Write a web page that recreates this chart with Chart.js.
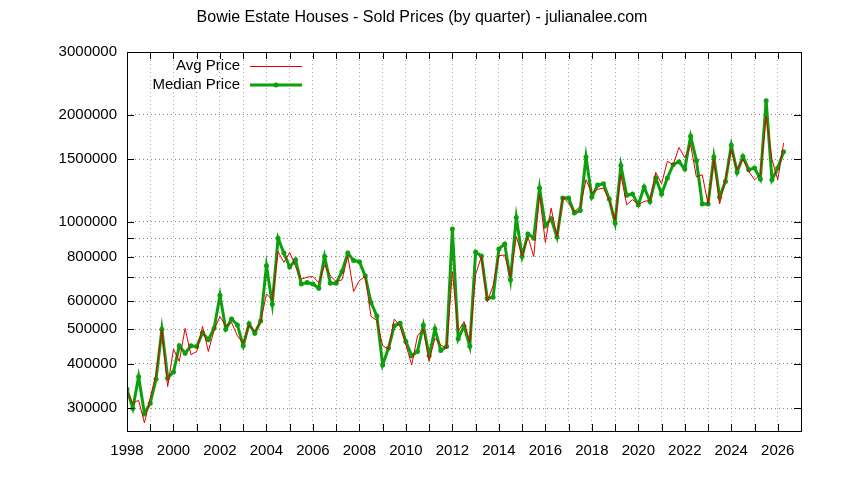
<!DOCTYPE html>
<html>
<head>
<meta charset="utf-8">
<script src="https://cdn.jsdelivr.net/npm/chart.js@4/dist/chart.umd.min.js"></script>
<style>
  html, body { margin: 0; padding: 0; background: #fff; }
</style>
</head>
<body>
<canvas id="priceChart" width="844" height="480"></canvas>
<script>
// quarterly data, first point is 1998 Q1
const firstYear = 1998;

const avgPrice = [
  335000, 310000, 316000, 273000, 320000, 375000, 498000, 345000, 440000, 406000,
  503000, 424000, 433000, 509000, 433000, 498000, 543000, 509000, 522000, 479000,
  457000, 514000, 493000, 525000, 628000, 604000, 826000, 770000, 821000, 750000,
  691000, 700000, 703000, 676000, 757000, 706000, 680000, 688000, 803000, 638000,
  685000, 703000, 543000, 529000, 449000, 440000, 534000, 509000, 452000, 397000,
  479000, 500000, 408000, 472000, 452000, 441000, 726000, 493000, 525000, 460000,
  712000, 800000, 596000, 662000, 804000, 808000, 700000, 910000, 803000, 910000,
  800000, 1193000, 876000, 1094000, 910000, 1175000, 1130000, 1070000, 1105000, 1314000,
  1206000, 1235000, 1245000, 1148000, 1014000, 1357000, 1118000, 1155000, 1120000, 1142000,
  1150000, 1378000, 1280000, 1480000, 1448000, 1619000, 1515000, 1648000, 1337000, 1357000,
  1125000, 1500000, 1125000, 1320000, 1595000, 1402000, 1500000, 1387000, 1314000, 1357000,
  1979000, 1500000, 1314000, 1666000
];

const medianPrice = [
  339000, 300000, 368000, 290000, 310000, 362000, 500000, 365000, 379000, 449000,
  428000, 449000, 447000, 489000, 467000, 503000, 623000, 500000, 534000, 514000,
  449000, 518000, 487000, 527000, 753000, 588000, 900000, 818000, 747000, 783000,
  670000, 676000, 670000, 652000, 800000, 673000, 673000, 726000, 818000, 780000,
  773000, 706000, 594000, 545000, 397000, 442000, 511000, 520000, 462000, 421000,
  433000, 513000, 421000, 501000, 436000, 447000, 955000, 470000, 510000, 448000,
  824000, 802000, 610000, 615000, 840000, 868000, 688000, 1030000, 800000, 926000,
  900000, 1245000, 976000, 1021000, 907000, 1167000, 1167000, 1059000, 1077000, 1522000,
  1175000, 1270000, 1280000, 1160000, 993000, 1441000, 1188000, 1198000, 1118000, 1254000,
  1142000, 1329000, 1198000, 1329000, 1448000, 1476000, 1408000, 1739000, 1489000, 1123000,
  1123000, 1522000, 1175000, 1300000, 1641000, 1378000, 1528000, 1402000, 1417000, 1320000,
  2190000, 1314000, 1417000, 1575000
];

const yTicks = [300000, 400000, 500000, 600000, 700000, 800000, 900000, 1000000, 1500000, 2000000, 3000000];
const yTickLabels = [300000, 400000, 500000, 600000, 800000, 1000000, 1500000, 2000000, 3000000];
const xYears = [1998, 1999, 2000, 2001, 2002, 2003, 2004, 2005, 2006, 2007, 2008, 2009, 2010, 2011, 2012,
  2013, 2014, 2015, 2016, 2017, 2018, 2019, 2020, 2021, 2022, 2023, 2024, 2025, 2026];

const FONT = "'Liberation Sans', Arial, sans-serif";
const RED = '#e00000';
const GREEN = '#0ca00c';

const avgPoints = avgPrice.map((v, i) => ({ x: firstYear + i * 0.25, y: v }));
const medianPoints = medianPrice.map((v, i) => ({ x: firstYear + i * 0.25, y: v }));

// frame, inward tick marks, title and legend in gnuplot style
const gnuplotBits = {
  id: 'gnuplotBits',
  afterDraw(chart) {
    const c = chart.ctx;
    const a = chart.chartArea;
    const xs = chart.scales.x, ys = chart.scales.y;
    c.save();
    c.strokeStyle = '#000';
    c.lineWidth = 1;
    c.beginPath();
    xYears.forEach(yr => {
      const px = Math.round(xs.getPixelForValue(yr)) + 0.5;
      c.moveTo(px, a.bottom); c.lineTo(px, a.bottom - 7);
      c.moveTo(px, a.top); c.lineTo(px, a.top + 7);
    });
    yTicks.forEach(v => {
      const py = Math.round(ys.getPixelForValue(v)) + 0.5;
      c.moveTo(a.left, py); c.lineTo(a.left + 7, py);
      c.moveTo(a.right, py); c.lineTo(a.right - 7, py);
    });
    c.stroke();
    c.strokeRect(Math.round(a.left) + 0.5, Math.round(a.top) + 0.5,
      Math.round(a.right - a.left), Math.round(a.bottom - a.top));

    c.fillStyle = '#000';
    c.font = '16px ' + FONT;
    c.textAlign = 'center';
    c.textBaseline = 'middle';
    c.fillText('Bowie Estate Houses - Sold Prices (by quarter) - julianalee.com', 422, 18);

    // legend
    c.font = '15px ' + FONT;
    c.textAlign = 'right';
    c.fillText('Avg Price', 240, 66);
    c.fillText('Median Price', 240, 85);
    c.strokeStyle = RED;
    c.lineWidth = 1;
    c.beginPath(); c.moveTo(250, 66.5); c.lineTo(302, 66.5); c.stroke();
    c.strokeStyle = GREEN;
    c.lineWidth = 3;
    c.beginPath(); c.moveTo(250, 85); c.lineTo(302, 85); c.stroke();
    c.fillStyle = GREEN;
    c.beginPath(); c.arc(276, 85, 2.5, 0, Math.PI * 2); c.fill();
    c.restore();
  }
};

const ctx = document.getElementById('priceChart').getContext('2d');
new Chart(ctx, {
  type: 'line',
  data: {
    datasets: [
      {
        label: 'Avg Price',
        data: avgPoints,
        borderColor: RED,
        borderWidth: 1,
        pointRadius: 0,
        tension: 0
      },
      {
        label: 'Median Price',
        data: medianPoints,
        borderColor: GREEN,
        backgroundColor: GREEN,
        borderWidth: 3,
        pointRadius: 2.5,
        pointBorderWidth: 0,
        pointBackgroundColor: GREEN,
        tension: 0
      }
    ]
  },
  options: {
    responsive: false,
    animation: false,
    devicePixelRatio: 1,
    layout: { padding: { top: 52, right: 43, left: 0, bottom: 0 } },
    plugins: {
      legend: { display: false },
      title: { display: false },
      tooltip: { enabled: false }
    },
    scales: {
      x: {
        type: 'linear',
        min: 1998,
        max: 2027,
        afterBuildTicks: s => { s.ticks = xYears.map(v => ({ value: v })); },
        afterFit: s => { s.height = 49; },
        ticks: {
          autoSkip: false,
          maxRotation: 0,
          padding: 11,
          color: '#000',
          font: { family: FONT, size: 15 },
          callback: v => (v % 2 === 0 ? String(v) : '')
        },
        grid: { color: '#aaaaaa', lineWidth: 1, drawTicks: false },
        border: { display: false, dash: [1, 3] }
      },
      y: {
        type: 'logarithmic',
        min: 259000,
        max: 3000000,
        afterBuildTicks: s => { s.ticks = yTicks.map(v => ({ value: v })); },
        afterFit: s => { s.width = 127; },
        ticks: {
          autoSkip: false,
          padding: 10,
          color: '#000',
          font: { family: FONT, size: 15 },
          callback: v => (yTickLabels.includes(v) ? String(v) : '')
        },
        grid: { color: '#888888', lineWidth: 1, drawTicks: false },
        border: { display: false, dash: [1, 3] }
      }
    }
  },
  plugins: [gnuplotBits]
});
</script>
</body>
</html>
